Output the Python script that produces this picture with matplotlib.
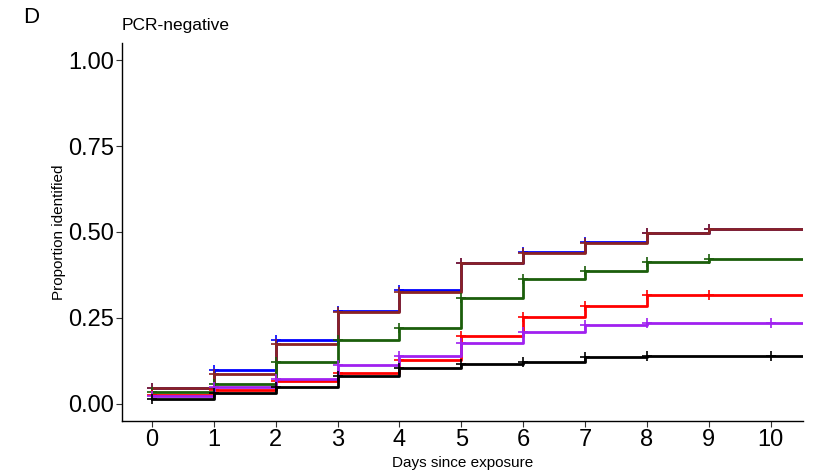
import matplotlib.pyplot as plt
import numpy as np

plt.rcParams['font.family'] = ['Liberation Sans', 'DejaVu Sans']

days = [0, 1, 2, 3, 4, 5, 6, 7, 8, 9]
x_end = 10.5

# cumulative proportion identified, value from each day onward
blue = [0.045, 0.099, 0.186, 0.271, 0.331, 0.411, 0.441, 0.470, 0.497, 0.510]
brown = [0.046, 0.088, 0.173, 0.268, 0.326, 0.409, 0.440, 0.469, 0.496, 0.509]
green = [0.033, 0.057, 0.123, 0.186, 0.220, 0.307, 0.364, 0.387, 0.414, 0.420]
red = [0.025, 0.041, 0.065, 0.090, 0.128, 0.196, 0.254, 0.285, 0.317, 0.317]
purple = [0.023, 0.049, 0.071, 0.113, 0.138, 0.178, 0.210, 0.230, 0.235, 0.235]
black = [0.015, 0.031, 0.049, 0.080, 0.104, 0.117, 0.123, 0.136, 0.140, 0.140]

# days carrying a censor mark
marks_blue = [0, 1, 2, 3, 4, 5, 6, 7, 8, 9]
marks_brown = [0, 1, 2, 3, 4, 5, 6, 7, 8, 9]
marks_green = [0, 1, 2, 3, 4, 5, 6, 7, 8, 9]
marks_red = [0, 1, 2, 3, 4, 5, 6, 7, 8, 9]
marks_purple = [0, 1, 2, 3, 4, 5, 6, 7, 8, 10]
marks_black = [0, 1, 2, 3, 4, 5, 6, 7, 8, 10]

series = [
    (blue, marks_blue, '#0000FF'),
    (brown, marks_brown, '#8B2323'),
    (green, marks_green, '#1B5E0B'),
    (red, marks_red, '#FF0000'),
    (purple, marks_purple, '#A020F0'),
    (black, marks_black, '#000000'),
]

fig = plt.figure(figsize=(8.15, 4.72), dpi=100)
ax = fig.add_axes([0.1497, 0.108, 0.8353, 0.801])

for vals, marks, col in series:
    xs = days + [x_end]
    ys = vals + [vals[-1]]
    ax.step(xs, ys, where='post', color=col, lw=2.0)
    my = [vals[min(d, len(vals) - 1)] for d in marks]
    ax.plot(marks, my, '+', color=col, ms=6.5, mew=1.2)

ax.set_xlim(-0.485, 10.52)
ax.set_ylim(-0.05, 1.05)
ax.set_xticks(range(0, 11))
ax.set_yticks([0, 0.25, 0.5, 0.75, 1.0])
ax.set_yticklabels(['0.00', '0.25', '0.50', '0.75', '1.00'])
ax.tick_params(length=4, width=0.8, color='#333333', labelcolor='black', pad=2)
for lab in ax.get_xticklabels() + ax.get_yticklabels():
    lab.set_family(['Liberation Sans Narrow', 'Liberation Sans', 'DejaVu Sans'])
    lab.set_fontsize(17)

for s in ['top', 'right']:
    ax.spines[s].set_visible(False)
for s in ['left', 'bottom']:
    ax.spines[s].set_linewidth(1.0)

ax.set_xlabel('Days since exposure', fontsize=11, labelpad=3)
ax.set_ylabel('Proportion identified', fontsize=11, labelpad=1)

fig.text(0.149, 0.93, 'PCR-negative', fontsize=12.5, ha='left', va='bottom')
fig.text(0.028, 0.94, 'D', fontsize=16, ha='left', va='bottom')

plt.savefig('out.png', dpi=100)
